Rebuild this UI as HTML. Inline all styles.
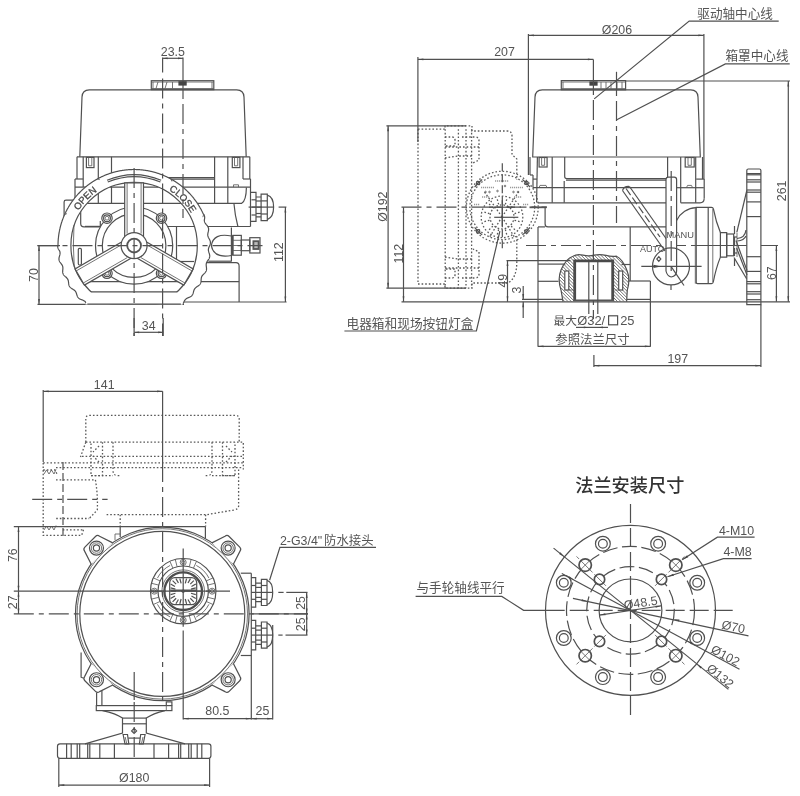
<!DOCTYPE html>
<html><head><meta charset="utf-8"><title>Outline dimensions</title>
<style>
html,body{margin:0;padding:0;background:#fff}
body{width:800px;height:796px;overflow:hidden}
svg{display:block;will-change:transform;filter:blur(0.45px)}
.l,.c,.d,.k,.h,.w{fill:none;stroke:#505050;stroke-width:1.2}
.w{fill:#fff}
.c{stroke-dasharray:20 5 5 5}
.c2{fill:none;stroke:#505050;stroke-width:1.2;stroke-dasharray:8 3}
.c4{fill:none;stroke:#505050;stroke-width:1.2;stroke-dasharray:15 4.5}
.c5{fill:none;stroke:#505050;stroke-width:1.2;stroke-dasharray:19 5}
.d2{fill:none;stroke:#5e5e5e;stroke-width:1.3;stroke-dasharray:1.6 2}
.ft{fill:none;stroke:#9a9a9a;stroke-width:1.6;stroke-dasharray:1.2 0.8}
.k2{fill:none;stroke:#4c4c4c;stroke-width:2.3}
.kk{fill:none;stroke:#4a4a4a;stroke-width:2.8}
.kw{fill:#fff;stroke:#4f4f4f;stroke-width:1.7}
.c6{fill:none;stroke:#6a6a6a;stroke-width:0.9;stroke-dasharray:7 2.5}
.d{stroke-dasharray:1.6 2;stroke:#585858;stroke-width:1.3}
.k{stroke-width:1.8;stroke:#555}
.h{stroke-width:0.85;stroke:#5c5c5c}
.ar{fill:#484848;stroke:none}
.bk{fill:#444;stroke:none}
.tx{font-family:"Liberation Sans",sans-serif;fill:#545454}
.tb{font-family:"Liberation Sans",sans-serif;fill:#484848;stroke:#484848;stroke-width:0.3}
.cj{font-family:"Liberation Sans","Noto Sans CJK SC",sans-serif;fill:#555;stroke:none}
.cjt{font-family:"Liberation Sans","Noto Sans CJK SC",sans-serif;fill:#333;stroke:none}
</style></head><body>
<svg width="800" height="796" viewBox="0 0 800 796">
<text class="tx" x="172.9" y="55.8" font-size="12.4" text-anchor="middle">23.5</text>
<path class="l" d="M162.6 58.3L183 58.3"/>
<path class="ar" d="M162.6 58.3L167.6 57.4L167.6 59.2Z"/>
<path class="ar" d="M183 58.3L178 59.2L178 57.4Z"/>
<path class="l" d="M162.6 57.5L162.6 72.5"/>
<path class="l" d="M183 57.5L183 99"/>
<path class="l" d="M79.8 156.8L82 97Q82.3 89.8 89.3 89.8L236.7 89.8Q243.7 89.8 244 97L246.2 156.8"/>
<rect class="l" x="151.3" y="80.7" width="62.5" height="9"/>
<path class="h" d="M151.3 82L213.8 82"/>
<path class="h" d="M151.3 88.5L213.8 88.5"/>
<path class="h" d="M153 82L153 88.5"/>
<path class="h" d="M158 82L156 88.5"/>
<path class="h" d="M167 82L165 88.5"/>
<path class="h" d="M172.5 82L172.5 88.5"/>
<path class="h" d="M212 82L212 88.5"/>
<rect class="bk" x="178.4" y="81.2" width="8.3" height="4.4"/>
<path class="l" d="M77 156.8L249.8 156.8"/>
<path class="l" d="M77 156.8L77 179"/>
<path class="l" d="M249.8 156.8L249.8 179"/>
<path class="l" d="M83.2 156.8L83.2 187.1"/>
<path class="l" d="M243 156.8L243 179"/>
<rect class="l" x="86.4" y="157.4" width="7.6" height="10.2"/>
<path class="h" d="M88.6 157.4L88.6 165.8"/>
<path class="h" d="M91.8 157.4L91.8 165.8"/>
<path class="h" d="M88.6 165.8L91.8 165.8"/>
<rect class="l" x="232.3" y="157.4" width="7.6" height="10.2"/>
<path class="h" d="M234.5 157.4L234.5 165.8"/>
<path class="h" d="M237.7 157.4L237.7 165.8"/>
<path class="h" d="M234.5 165.8L237.7 165.8"/>
<path class="l" d="M98.3 156.8L98.3 203.3"/>
<path class="l" d="M111.5 156.8L111.5 203.3"/>
<path class="l" d="M214.6 156.8L214.6 203.3"/>
<path class="l" d="M227.8 156.8L227.8 203.3"/>
<path class="l" d="M75 179L83.2 179"/>
<path class="l" d="M243 179L250.5 179"/>
<path class="l" d="M75 179L75 200.2"/>
<path class="l" d="M250.5 179L250.5 226.5"/>
<path class="l" d="M75 187.1L250.5 187.1"/>
<path class="l" d="M111.5 177.7L214.6 177.7"/>
<path class="l" d="M111.5 179.2L214.6 179.2"/>
<path class="h" d="M233.5 187.1L233.5 184.8"/>
<path class="h" d="M233.5 184.8L238.5 184.8"/>
<path class="h" d="M238.5 184.8L238.5 187.1"/>
<path class="l" d="M87 203.3L241.7 203.3Q246.2 200.5 246.4 187.4"/>
<path class="l" d="M233.9 203.3Q235 216 237.9 226.5"/>
<path class="l" d="M166 226.5L250.5 226.5"/>
<path class="l" d="M75 200.2L66 200.2Q64.1 200.2 64.1 202L64.1 215.2L68 213"/>
<path class="l" d="M80.7 203L80.7 223.5Q80.7 226.8 84 226.8L100.3 226.8L100.3 221"/>
<path class="l" d="M85 226.4L101.3 226.4"/>
<path class="l" d="M176.5 226.5L176.5 261.5"/>
<path class="l" d="M176.5 261.5L194 261.5"/>
<path class="l" d="M208.4 261.2L231.4 261.2"/>
<path class="l" d="M205 262.7L236 262.7Q239.1 262.7 239.1 266L239.1 302"/>
<path class="l" d="M85 281.7L239.1 281.7"/>
<path class="l" d="M37.5 304.4L184 304.4"/>
<path class="l" d="M184 302L286.6 302"/>
<path class="l" d="M250.9 192.4L256 192.4L256 221.3L250.9 221.3"/>
<path class="l" d="M251.5 199.8L256 199.8"/>
<path class="l" d="M251.5 207.1L256 207.1"/>
<path class="l" d="M251.5 215L256 215"/>
<path class="l" d="M256 197L261.1 197M256 216.8L261.1 216.8"/>
<path class="l" d="M256 201L261.1 201"/>
<path class="l" d="M256 207.1L261.1 207.1"/>
<path class="l" d="M256 213.5L261.1 213.5"/>
<path class="l" d="M261.1 194.1L267.3 194.1L267.3 220.7L261.1 220.7Z"/>
<path class="l" d="M261.1 200.9L267.3 200.9"/>
<path class="l" d="M261.1 207.1L267.3 207.1"/>
<path class="l" d="M261.1 214L267.3 214"/>
<path class="l" d="M267.3 195.2Q273.6 197 273.6 207.1Q273.6 217.5 267.3 219.6"/>
<path class="l" d="M267.3 207.1L273.6 207.1"/>
<path class="l" d="M248.6 207.1L262 207.1"/>
<path class="l" d="M278.6 207.1L286.4 207.1"/>
<path class="l" d="M231.4 236Q213.5 232.5 211.3 245.6Q213.5 258.5 231.4 255.5"/>
<path class="l" d="M231.4 227.5L231.4 261.4"/>
<path class="k" d="M232.6 235.4L232.6 255.2"/>
<rect class="l" x="232.8" y="235.4" width="8.5" height="19.8"/>
<path class="h" d="M232.8 240.3L241.3 240.3"/>
<path class="h" d="M232.8 245.5L241.3 245.5"/>
<path class="h" d="M232.8 250.5L241.3 250.5"/>
<rect class="l" x="241.3" y="240" width="8.5" height="10.7"/>
<rect class="l" x="249.8" y="237.7" width="10.2" height="15.3"/>
<rect class="k" x="253.4" y="241.2" width="5.2" height="7.8"/>
<path class="h" d="M255 241.2L255 249"/>
<path class="h" d="M257 241.2L257 249"/>
<circle class="w" cx="134.1" cy="245.6" r="38.6"/>
<circle class="l" cx="134.1" cy="245.6" r="31.8"/>
<circle class="w" cx="107" cy="218.2" r="5.2"/>
<circle class="l" cx="107" cy="218.2" r="3.4"/>
<circle class="h" cx="107" cy="218.2" r="1.9"/>
<circle class="w" cx="161.5" cy="218.2" r="5.2"/>
<circle class="l" cx="161.5" cy="218.2" r="3.4"/>
<circle class="h" cx="161.5" cy="218.2" r="1.9"/>
<circle class="w" cx="107" cy="273.3" r="5.2"/>
<circle class="l" cx="107" cy="273.3" r="3.4"/>
<circle class="h" cx="107" cy="273.3" r="1.9"/>
<circle class="w" cx="161.5" cy="273.3" r="5.2"/>
<circle class="l" cx="161.5" cy="273.3" r="3.4"/>
<circle class="h" cx="161.5" cy="273.3" r="1.9"/>
<defs><clipPath id="cw"><rect x="40" y="150" width="220" height="154.4"/></clipPath><clipPath id="cw2"><rect x="40" y="150" width="220" height="141.9"/></clipPath></defs>
<path class="w" fill-rule="evenodd" clip-path="url(#cw)" d="M58 245.6L58 245.27L58 244.94L58.01 244.6L58.01 244.27L58.02 243.94L58.03 243.61L58.04 243.28L58.05 242.94L58.06 242.61L58.07 242.28L58.09 241.95L58.1 241.62L58.12 241.29L58.14 240.95L58.16 240.62L58.19 240.29L58.21 239.96L58.23 239.63L58.26 239.3L58.29 238.97L58.32 238.64L58.35 238.31L58.38 237.98L58.42 237.65L58.45 237.32L58.49 236.99L58.53 236.66L58.57 236.33L58.61 236L58.65 235.67L58.7 235.34L58.74 235.01L58.79 234.68L58.84 234.35L58.89 234.02L58.94 233.7L58.99 233.37L59.04 233.04L59.1 232.71L59.16 232.39L59.21 232.06L59.27 231.73L59.34 231.41L59.4 231.08L59.46 230.75L59.53 230.43L59.59 230.1L59.66 229.78L59.73 229.45L59.8 229.13L59.88 228.8L59.95 228.48L60.03 228.16L60.1 227.83L60.18 227.51L60.26 227.19L60.34 226.87L60.42 226.55L60.51 226.22L60.59 225.9L60.68 225.58L60.77 225.26L60.86 224.94L60.95 224.62L61.04 224.31L61.13 223.99L61.23 223.67L61.33 223.35L61.42 223.03L61.52 222.72L61.62 222.4L61.72 222.08L61.83 221.77L61.93 221.45L62.04 221.14L62.15 220.82L62.25 220.51L62.36 220.2L62.48 219.88L62.59 219.57L62.7 219.26L62.82 218.95L62.94 218.64L63.05 218.33L63.17 218.02L63.3 217.71L63.42 217.4L63.54 217.09L63.67 216.78L63.79 216.48L63.92 216.17L64.05 215.87L64.18 215.56L64.31 215.26L64.44 214.95L64.58 214.65L64.71 214.34L64.85 214.04L64.99 213.74L65.13 213.44L65.27 213.14L65.41 212.84L65.56 212.54L65.7 212.24L65.85 211.94L66 211.64L66.14 211.35L66.29 211.05L66.45 210.76L66.6 210.46L66.75 210.17L66.91 209.87L67.06 209.58L67.22 209.29L67.38 209L67.54 208.71L67.7 208.42L67.87 208.13L68.03 207.84L68.2 207.55L68.36 207.26L68.53 206.98L68.7 206.69L68.87 206.41L69.04 206.12L69.21 205.84L69.39 205.56L69.56 205.27L69.74 204.99L69.92 204.71L70.1 204.43L70.28 204.15L70.46 203.87L70.64 203.6L70.83 203.32L71.01 203.05L71.2 202.77L71.38 202.5L71.57 202.22L71.76 201.95L71.95 201.68L72.15 201.41L72.34 201.14L72.53 200.87L72.73 200.6L72.93 200.33L73.12 200.07L73.32 199.8L73.52 199.54L73.73 199.27L73.93 199.01L74.13 198.75L74.34 198.49L74.54 198.23L74.75 197.97L74.96 197.71L75.17 197.45L75.38 197.19L75.59 196.94L75.8 196.68L76.02 196.43L76.23 196.18L76.45 195.92L76.67 195.67L76.88 195.42L77.1 195.17L77.33 194.93L77.55 194.68L77.77 194.43L77.99 194.19L78.22 193.94L78.44 193.7L78.67 193.46L78.9 193.22L79.13 192.98L79.36 192.74L79.59 192.5L79.82 192.26L80.05 192.02L80.29 191.79L80.52 191.55L80.76 191.32L81 191.09L81.24 190.86L81.48 190.63L81.72 190.4L81.96 190.17L82.2 189.94L82.44 189.72L82.69 189.49L82.93 189.27L83.18 189.05L83.43 188.83L83.67 188.6L83.92 188.38L84.17 188.17L84.42 187.95L84.68 187.73L84.93 187.52L85.18 187.3L85.44 187.09L85.69 186.88L85.95 186.67L86.21 186.46L86.47 186.25L86.73 186.04L86.99 185.84L87.25 185.63L87.51 185.43L87.77 185.23L88.04 185.02L88.3 184.82L88.57 184.62L88.83 184.43L89.1 184.23L89.37 184.03L89.64 183.84L89.91 183.65L90.18 183.45L90.45 183.26L90.72 183.07L91 182.88L91.27 182.7L91.55 182.51L91.82 182.33L92.1 182.14L92.37 181.96L92.65 181.78L92.93 181.6L93.21 181.42L93.49 181.24L93.77 181.06L94.06 180.89L94.34 180.71L94.62 180.54L94.91 180.37L95.19 180.2L95.48 180.03L95.76 179.86L96.05 179.7L96.34 179.53L96.63 179.37L96.92 179.2L97.21 179.04L97.5 178.88L97.79 178.72L98.08 178.56L98.37 178.41L98.67 178.25L98.96 178.1L99.26 177.95L99.55 177.79L99.85 177.64L100.14 177.5L100.44 177.35L100.74 177.2L101.04 177.06L101.34 176.91L101.64 176.77L101.94 176.63L102.24 176.49L102.54 176.35L102.84 176.21L103.15 176.08L103.45 175.94L103.76 175.81L104.06 175.68L104.37 175.55L104.67 175.42L104.98 175.29L105.28 175.17L105.59 175.04L105.9 174.92L106.21 174.8L106.52 174.67L106.83 174.55L107.14 174.44L107.45 174.32L107.76 174.2L108.07 174.09L108.38 173.98L108.7 173.86L109.01 173.75L109.32 173.65L109.64 173.54L109.95 173.43L110.27 173.33L110.58 173.22L110.9 173.12L111.22 173.02L111.53 172.92L111.85 172.83L112.17 172.73L112.49 172.63L112.81 172.54L113.12 172.45L113.44 172.36L113.76 172.27L114.08 172.18L114.4 172.09L114.72 172.01L115.05 171.92L115.37 171.84L115.69 171.76L116.01 171.68L116.33 171.6L116.66 171.53L116.98 171.45L117.3 171.38L117.63 171.3L117.95 171.23L118.28 171.16L118.6 171.09L118.93 171.03L119.25 170.96L119.58 170.9L119.91 170.84L120.23 170.77L120.56 170.71L120.89 170.66L121.21 170.6L121.54 170.54L121.87 170.49L122.2 170.44L122.52 170.39L122.85 170.34L123.18 170.29L123.51 170.24L123.84 170.2L124.17 170.15L124.5 170.11L124.83 170.07L125.16 170.03L125.49 169.99L125.82 169.95L126.15 169.92L126.48 169.88L126.81 169.85L127.14 169.82L127.47 169.79L127.8 169.76L128.13 169.73L128.46 169.71L128.79 169.69L129.12 169.66L129.45 169.64L129.79 169.62L130.12 169.6L130.45 169.59L130.78 169.57L131.11 169.56L131.44 169.55L131.78 169.54L132.11 169.53L132.44 169.52L132.77 169.51L133.1 169.51L133.44 169.5L133.77 169.5L134.1 169.5L134.43 169.5L134.76 169.5L135.1 169.51L135.43 169.51L135.76 169.52L136.09 169.53L136.42 169.54L136.76 169.55L137.09 169.56L137.42 169.57L137.75 169.59L138.08 169.6L138.41 169.62L138.75 169.64L139.08 169.66L139.41 169.69L139.74 169.71L140.07 169.73L140.4 169.76L140.73 169.79L141.06 169.82L141.39 169.85L141.72 169.88L142.05 169.92L142.38 169.95L142.71 169.99L143.04 170.03L143.37 170.07L143.7 170.11L144.03 170.15L144.36 170.2L144.69 170.24L145.02 170.29L145.35 170.34L145.68 170.39L146 170.44L146.33 170.49L146.66 170.54L146.99 170.6L147.31 170.66L147.64 170.71L147.97 170.77L148.29 170.84L148.62 170.9L148.95 170.96L149.27 171.03L149.6 171.09L149.92 171.16L150.25 171.23L150.57 171.3L150.9 171.38L151.22 171.45L151.54 171.53L151.87 171.6L152.19 171.68L152.51 171.76L152.83 171.84L153.15 171.92L153.48 172.01L153.8 172.09L154.12 172.18L154.44 172.27L154.76 172.36L155.08 172.45L155.39 172.54L155.71 172.63L156.03 172.73L156.35 172.83L156.67 172.92L156.98 173.02L157.3 173.12L157.62 173.22L157.93 173.33L158.25 173.43L158.56 173.54L158.88 173.65L159.19 173.75L159.5 173.86L159.82 173.98L160.13 174.09L160.44 174.2L160.75 174.32L161.06 174.44L161.37 174.55L161.68 174.67L161.99 174.8L162.3 174.92L162.61 175.04L162.92 175.17L163.22 175.29L163.53 175.42L163.83 175.55L164.14 175.68L164.44 175.81L164.75 175.94L165.05 176.08L165.36 176.21L165.66 176.35L165.96 176.49L166.26 176.63L166.56 176.77L166.86 176.91L167.16 177.06L167.46 177.2L167.76 177.35L168.06 177.5L168.35 177.64L168.65 177.79L168.94 177.95L169.24 178.1L169.53 178.25L169.83 178.41L170.12 178.56L170.41 178.72L170.7 178.88L170.99 179.04L171.28 179.2L171.57 179.37L171.86 179.53L172.15 179.7L172.44 179.86L172.72 180.03L173.01 180.2L173.29 180.37L173.58 180.54L173.86 180.71L174.14 180.89L174.43 181.06L174.71 181.24L174.99 181.42L175.27 181.6L175.55 181.78L175.83 181.96L176.1 182.14L176.38 182.33L176.65 182.51L176.93 182.7L177.2 182.88L177.48 183.07L177.75 183.26L178.02 183.45L178.29 183.65L178.56 183.84L178.83 184.03L179.1 184.23L179.37 184.43L179.63 184.62L179.9 184.82L180.16 185.02L180.43 185.23L180.69 185.43L180.95 185.63L181.21 185.84L181.47 186.04L181.73 186.25L181.99 186.46L182.25 186.67L182.51 186.88L182.76 187.09L183.02 187.3L183.27 187.52L183.52 187.73L183.78 187.95L184.03 188.17L184.28 188.38L184.53 188.6L184.77 188.83L185.02 189.05L185.27 189.27L185.51 189.49L185.76 189.72L186 189.94L186.24 190.17L186.48 190.4L186.72 190.63L186.96 190.86L187.2 191.09L187.44 191.32L187.68 191.55L187.91 191.79L188.15 192.02L188.38 192.26L188.61 192.5L188.84 192.74L189.07 192.98L189.3 193.22L189.53 193.46L189.76 193.7L189.98 193.94L190.21 194.19L190.43 194.43L190.65 194.68L190.87 194.93L191.1 195.17L191.32 195.42L191.53 195.67L191.75 195.92L191.97 196.18L192.18 196.43L192.4 196.68L192.61 196.94L192.82 197.19L193.03 197.45L193.24 197.71L193.45 197.97L193.66 198.23L193.86 198.49L194.07 198.75L194.27 199.01L194.47 199.27L194.68 199.54L194.88 199.8L195.08 200.07L195.27 200.33L195.47 200.6L195.67 200.87L195.86 201.14L196.05 201.41L196.25 201.68L196.44 201.95L196.63 202.22L196.82 202.5L197 202.77L197.19 203.05L197.37 203.32L197.56 203.6L197.74 203.87L197.92 204.15L198.1 204.43L198.28 204.71L198.46 204.99L198.64 205.27L198.81 205.56L198.99 205.84L199.16 206.12L199.33 206.41L199.5 206.69L199.67 206.98L199.84 207.26L200 207.55L200.17 207.84L200.33 208.13L200.5 208.42L200.66 208.71L200.82 209L200.98 209.29L201.14 209.58L201.29 209.87L201.45 210.17L201.6 210.46L201.75 210.76L201.91 211.05L202.06 211.35L202.2 211.64L202.35 211.94L202.5 212.24L202.64 212.54L202.79 212.84L202.93 213.14L203.07 213.44L203.21 213.74L203.35 214.04L203.49 214.34L203.89 214.53L204.03 214.83L204.16 215.14L204.28 215.45L204.39 215.76L204.48 216.09L204.56 216.41L204.62 216.75L204.66 217.09L204.67 217.44L204.67 217.8L204.65 218.17L204.6 218.54L204.55 218.91L204.47 219.29L204.39 219.67L204.31 220.05L204.33 220.39L204.36 220.72L204.41 221.05L204.47 221.37L204.56 221.68L204.66 221.99L204.78 222.29L204.92 222.59L205.07 222.88L205.25 223.17L205.43 223.45L205.63 223.73L205.85 224.01L206.07 224.28L206.29 224.56L206.52 224.83L206.75 225.11L206.98 225.39L207.2 225.67L207.41 225.96L207.62 226.25L207.8 226.54L207.97 226.84L208.13 227.14L208.26 227.45L208.37 227.77L208.47 228.09L208.54 228.42L208.58 228.75L208.61 229.08L208.61 229.42L208.6 229.76L208.57 230.11L208.52 230.46L208.47 230.81L208.4 231.16L208.32 231.51L208.24 231.86L208.15 232.21L208.07 232.56L207.99 232.9L207.92 233.25L207.86 233.59L207.82 233.92L207.78 234.26L207.76 234.59L207.76 234.92L207.78 235.24L207.82 235.57L207.88 235.89L207.96 236.2L208.05 236.52L208.16 236.83L208.29 237.15L208.44 237.46L208.59 237.77L208.75 238.08L208.92 238.4L209.1 238.71L209.27 239.02L209.44 239.34L209.61 239.66L209.77 239.98L209.91 240.3L210.04 240.62L210.16 240.95L210.26 241.28L210.34 241.6L210.39 241.94L210.43 242.27L210.44 242.6L210.43 242.93L210.39 243.27L210.34 243.6L210.27 243.94L210.17 244.27L210.07 244.61L209.95 244.94L209.81 245.27L209.67 245.6L209.53 245.93L209.38 246.26L209.23 246.58L209.09 246.91L208.96 247.23L208.83 247.56L208.72 247.88L208.62 248.2L208.54 248.52L208.47 248.85L208.42 249.17L208.4 249.49L208.39 249.82L208.4 250.14L208.43 250.47L208.48 250.8L208.55 251.13L208.63 251.47L208.72 251.8L208.82 252.14L208.93 252.48L209.04 252.82L209.15 253.16L209.26 253.5L209.36 253.84L209.46 254.19L209.55 254.53L209.62 254.87L209.68 255.21L209.71 255.55L209.73 255.89L209.73 256.23L209.71 256.56L209.66 256.89L209.59 257.22L209.5 257.54L209.39 257.86L209.26 258.18L209.11 258.49L208.94 258.8L208.76 259.1L208.57 259.4L208.38 259.7L208.17 260L207.97 260.29L207.76 260.59L207.56 260.88L207.36 261.17L207.18 261.47L207 261.76L206.84 262.06L206.7 262.36L206.57 262.66L206.46 262.97L206.37 263.28L206.3 263.6L206.24 263.92L206.21 264.25L206.19 264.58L206.19 264.92L206.2 265.26L206.23 265.6L206.26 265.95L206.3 266.3L206.35 266.66L206.4 267.01L206.44 267.37L206.48 267.73L206.51 268.08L206.53 268.44L206.54 268.79L206.54 269.14L206.52 269.48L206.47 269.82L206.41 270.15L206.33 270.47L206.23 270.79L206.1 271.1L205.96 271.4L205.79 271.69L205.61 271.98L205.41 272.26L205.19 272.53L204.96 272.8L204.72 273.06L204.47 273.32L204.21 273.57L203.96 273.82L203.7 274.07L203.44 274.32L203.2 274.57L202.96 274.83L202.73 275.08L202.51 275.35L202.31 275.61L202.12 275.89L201.95 276.17L201.8 276.45L201.67 276.75L201.55 277.05L201.46 277.37L201.37 277.69L201.31 278.02L201.25 278.35L201.21 278.69L201.18 279.04L201.15 279.4L201.13 279.75L201.11 280.11L201.08 280.47L201.06 280.83L201.02 281.18L200.98 281.54L200.93 281.88L200.86 282.23L200.78 282.56L200.68 282.88L200.56 283.2L200.42 283.51L200.26 283.8L200.09 284.08L199.89 284.35L199.68 284.61L199.45 284.86L199.2 285.1L198.94 285.33L198.66 285.55L198.38 285.77L198.09 285.97L197.79 286.17L197.49 286.37L197.19 286.57L196.89 286.77L196.6 286.97L196.32 287.17L196.04 287.38L195.78 287.59L195.53 287.82L195.29 288.05L195.07 288.29L194.86 288.54L194.67 288.81L194.5 289.08L194.34 289.37L194.2 289.66L194.07 289.97L193.95 290.29L193.84 290.62L193.74 290.95L193.65 291.29L193.56 291.64L193.47 291.99L193.38 292.33L193.29 292.68L193.19 293.03L193.09 293.37L192.97 293.7L192.84 294.02L192.7 294.34L192.54 294.64L192.37 294.93L192.18 295.21L191.98 295.47L191.75 295.72L191.51 295.95L191.26 296.17L190.99 296.37L190.7 296.57L190.4 296.74L190.1 296.91L189.78 297.07L189.45 297.22L189.12 297.36L188.79 297.5L188.46 297.64L188.13 297.78L187.81 297.92L187.49 298.06L187.18 298.21L186.87 298.37L186.58 298.54L186.3 298.72L186.04 298.92L185.79 299.12L185.55 299.34L185.32 299.58L185.11 299.83L184.91 300.09L184.73 300.37L184.55 300.65L184.38 300.95L184.22 301.26L184.06 301.58L183.91 301.9L183.76 302.22L183.6 302.55L183.45 302.87L183.29 303.19L183.12 303.51L182.95 303.82L182.77 304.11L182.57 304.4L182.36 304.67L182.14 304.93L181.91 305.17L181.66 305.39L181.4 305.6L181.12 305.78L180.83 305.95L180.53 306.11L180.21 306.24L179.89 306.37L179.56 306.47L179.22 306.57L178.87 306.66L178.52 306.74L178.17 306.82L177.82 306.89L177.47 306.96L177.12 307.04L176.78 307.12L176.44 307.21L176.12 307.31L175.8 307.42L175.49 307.54L175.19 307.68L174.9 307.83L174.62 308L174.35 308.18L174.1 308.38L173.85 308.6L173.61 308.83L173.38 309.08L173.16 309.34L172.94 309.61L172.73 309.89L172.52 310.18L172.31 310.47L172.1 310.76L171.89 311.05L171.67 311.34L171.45 311.62L171.22 311.89L170.99 312.15L170.74 312.39L170.49 312.62L170.23 312.84L169.95 313.03L169.67 313.21L169.38 313.37L169.07 313.5L168.76 313.62L168.43 313.72L168.1 313.8L167.76 313.86L167.41 313.91L167.06 313.94L166.71 313.96L166.35 313.98L165.99 313.99L165.63 313.99L165.27 314L164.92 314.01L164.56 314.02L164.22 314.05L163.88 314.08L163.54 314.12L163.21 314.18L162.89 314.26L162.58 314.35L162.27 314.46L161.97 314.59L161.68 314.74L161.4 314.9L161.12 315.08L160.85 315.28L160.58 315.49L160.31 315.71L160.05 315.94L159.79 316.18L159.82 317.22L159.5 317.34L159.19 317.45L158.88 317.55L158.56 317.66L158.25 317.77L157.93 317.87L157.62 317.98L157.3 318.08L156.98 318.18L156.67 318.28L156.35 318.37L156.03 318.47L155.71 318.57L155.39 318.66L155.08 318.75L154.76 318.84L154.44 318.93L154.12 319.02L153.8 319.11L153.48 319.19L153.15 319.28L152.83 319.36L152.51 319.44L152.19 319.52L151.87 319.6L151.54 319.67L151.22 319.75L150.9 319.82L150.57 319.9L150.25 319.97L149.92 320.04L149.6 320.11L149.27 320.17L148.95 320.24L148.62 320.3L148.29 320.36L147.97 320.43L147.64 320.49L147.31 320.54L146.99 320.6L146.66 320.66L146.33 320.71L146 320.76L145.68 320.81L145.35 320.86L145.02 320.91L144.69 320.96L144.36 321L144.03 321.05L143.7 321.09L143.37 321.13L143.04 321.17L142.71 321.21L142.38 321.25L142.05 321.28L141.72 321.32L141.39 321.35L141.06 321.38L140.73 321.41L140.4 321.44L140.07 321.47L139.74 321.49L139.41 321.51L139.08 321.54L138.75 321.56L138.41 321.58L138.08 321.6L137.75 321.61L137.42 321.63L137.09 321.64L136.76 321.65L136.42 321.66L136.09 321.67L135.76 321.68L135.43 321.69L135.1 321.69L134.76 321.7L134.43 321.7L134.1 321.7L133.77 321.7L133.44 321.7L133.1 321.69L132.77 321.69L132.44 321.68L132.11 321.67L131.78 321.66L131.44 321.65L131.11 321.64L130.78 321.63L130.45 321.61L130.12 321.6L129.79 321.58L129.45 321.56L129.12 321.54L128.79 321.51L128.46 321.49L128.13 321.47L127.8 321.44L127.47 321.41L127.14 321.38L126.81 321.35L126.48 321.32L126.15 321.28L125.82 321.25L125.49 321.21L125.16 321.17L124.83 321.13L124.5 321.09L124.17 321.05L123.84 321L123.51 320.96L123.18 320.91L122.85 320.86L122.52 320.81L122.2 320.76L121.87 320.71L121.54 320.66L121.21 320.6L120.89 320.54L120.56 320.49L120.23 320.43L119.91 320.36L119.58 320.3L119.25 320.24L118.93 320.17L118.6 320.11L118.28 320.04L117.95 319.97L117.63 319.9L117.3 319.82L116.98 319.75L116.66 319.67L116.33 319.6L116.01 319.52L115.69 319.44L115.37 319.36L115.05 319.28L114.72 319.19L114.4 319.11L114.08 319.02L113.76 318.93L113.44 318.84L113.12 318.75L112.81 318.66L112.49 318.57L112.17 318.47L111.85 318.37L111.53 318.28L111.22 318.18L110.9 318.08L110.58 317.98L110.27 317.87L109.95 317.77L109.64 317.66L109.32 317.55L109.01 317.45L108.7 317.34L108.38 317.22L108.07 317.11L107.76 317L107.45 316.88L107.14 316.76L106.83 316.65L106.52 316.53L106.21 316.4L105.9 316.28L105.59 316.16L105.28 316.03L104.98 315.91L104.67 315.78L104.37 315.65L104.06 315.52L103.76 315.39L103.45 315.26L103.15 315.12L102.84 314.99L102.54 314.85L102.24 314.71L101.94 314.57L101.64 314.43L101.34 314.29L101.04 314.14L100.74 314L100.44 313.85L100.14 313.7L99.85 313.56L99.55 313.41L99.26 313.25L98.96 313.1L98.67 312.95L98.37 312.79L98.08 312.64L97.79 312.48L97.5 312.32L97.21 312.16L96.92 312L96.63 311.83L96.34 311.67L96.05 311.5L95.76 311.34L95.48 311.17L95.19 311L94.91 310.83L94.62 310.66L94.34 310.49L94.06 310.31L93.77 310.14L93.49 309.96L93.21 309.78L92.93 309.6L92.65 309.42L92.37 309.24L92.1 309.06L91.82 308.87L91.55 308.69L91.27 308.5L91 308.32L90.72 308.13L90.37 308.05L90.06 307.91L89.76 307.76L89.47 307.6L89.19 307.41L88.93 307.2L88.68 306.98L88.44 306.74L88.22 306.48L88.01 306.21L87.81 305.93L87.62 305.63L87.44 305.33L87.26 305.02L87.09 304.7L86.92 304.38L86.76 304.06L86.59 303.75L86.43 303.43L86.25 303.13L86.07 302.83L85.89 302.55L85.69 302.28L85.49 302.02L85.27 301.77L85.04 301.54L84.8 301.32L84.54 301.12L84.28 300.93L84 300.76L83.7 300.6L83.4 300.45L83.08 300.31L82.76 300.17L82.43 300.05L82.1 299.92L81.76 299.8L81.43 299.67L81.09 299.54L80.76 299.41L80.43 299.27L80.11 299.12L79.8 298.96L79.5 298.78L79.22 298.6L78.95 298.4L78.69 298.18L78.45 297.95L78.23 297.7L78.02 297.44L77.83 297.16L77.66 296.87L77.5 296.57L77.35 296.25L77.22 295.93L77.09 295.59L76.98 295.26L76.87 294.91L76.77 294.57L76.66 294.22L76.56 293.88L76.45 293.54L76.34 293.21L76.23 292.89L76.1 292.57L75.96 292.26L75.81 291.97L75.65 291.68L75.47 291.41L75.27 291.15L75.06 290.9L74.84 290.66L74.6 290.44L74.34 290.22L74.07 290.02L73.79 289.82L73.5 289.63L73.21 289.44L72.9 289.25L72.6 289.07L72.29 288.88L71.98 288.69L71.68 288.5L71.38 288.3L71.1 288.1L70.82 287.88L70.56 287.66L70.31 287.42L70.08 287.18L69.86 286.92L69.67 286.65L69.49 286.37L69.33 286.07L69.19 285.77L69.07 285.45L68.97 285.12L68.88 284.79L68.81 284.44L68.75 284.1L68.7 283.74L68.65 283.39L68.61 283.03L68.58 282.67L68.54 282.32L68.5 281.96L68.46 281.61L68.4 281.27L68.34 280.93L68.26 280.61L68.17 280.29L68.07 279.97L67.95 279.67L67.81 279.38L67.65 279.09L67.48 278.82L67.29 278.55L67.08 278.29L66.86 278.03L66.63 277.78L66.38 277.54L66.12 277.3L65.86 277.06L65.59 276.82L65.33 276.58L65.06 276.34L64.8 276.09L64.54 275.84L64.3 275.59L64.06 275.33L63.84 275.06L63.64 274.79L63.45 274.5L63.29 274.21L63.14 273.91L63.02 273.6L62.91 273.28L62.83 272.96L62.77 272.63L62.72 272.29L62.7 271.94L62.69 271.59L62.69 271.24L62.7 270.88L62.72 270.53L62.75 270.17L62.78 269.81L62.82 269.45L62.84 269.1L62.87 268.75L62.88 268.4L62.88 268.05L62.87 267.72L62.85 267.38L62.81 267.06L62.75 266.74L62.67 266.42L62.58 266.11L62.46 265.8L62.33 265.5L62.18 265.21L62.01 264.92L61.83 264.63L61.63 264.34L61.43 264.06L61.22 263.77L61 263.49L60.78 263.2L60.57 262.91L60.35 262.63L60.15 262.33L59.95 262.04L59.77 261.74L59.6 261.44L59.45 261.13L59.31 260.82L59.2 260.5L59.11 260.18L59.04 259.85L58.99 259.52L58.97 259.19L58.97 258.85L58.98 258.51L59.02 258.16L59.07 257.82L59.13 257.47L59.21 257.13L59.3 256.78L59.39 256.43L59.49 256.09L59.59 255.74L59.68 255.4L59.77 255.06L59.85 254.72L59.92 254.38L59.98 254.04L60.02 253.71L60.05 253.38L60.05 253.06L60.04 252.73L60.01 252.41L59.96 252.09L59.89 251.77L59.8 251.45L59.69 251.13L59.57 250.81L59.34 250.5L59.11 250.19L58.89 249.87L58.68 249.55L58.49 249.23L58.32 248.91L58.18 248.58L58.05 248.26L57.94 247.93L57.86 247.6L57.8 247.26L57.75 246.93L57.72 246.6L57.71 246.27L57.7 245.93L57.7 245.6ZM197.3 245.6A63.2 63.2 0 1 0 70.9 245.6A63.2 63.2 0 1 0 197.3 245.6Z"/>
<path d="M90.97 291.8L177.23 291.8L182.88 304.4L85.32 304.4Z" fill="#fff" stroke="none"/>
<path class="l" d="M87.32 304.2L180.88 304.2"/>
<path class="l" d="M90.97 291.8L177.23 291.8"/>
<path class="l" d="M107.04 180.28A70.7 70.7 0 0 1 161.16 180.28"/>
<path class="l" d="M107.77 182.04A68.8 68.8 0 0 1 160.43 182.04"/>
<rect class="l" x="78.3" y="248.3" width="3.1" height="16.7" rx="1.2"/>
<path class="h" d="M74 225Q72.6 246 74.3 267"/>
<path class="h" d="M64.58 214.65L66.95 213.57"/>
<path class="h" d="M97.21 179.04L99.75 179.61"/>
<path class="h" d="M170.99 179.04L171.86 181.49"/>
<path class="h" d="M203.62 214.65L202.84 217.13"/>
<g clip-path="url(#cw2)">
<path class="w" d="M124.7 237.6L124.7 182.8L143.5 182.8L143.5 237.6"/>
<path class="h" d="M127.1 233.6L127.1 182.8"/>
<path class="h" d="M141.1 233.6L141.1 182.8"/>
<path class="w" d="M131.87 257.74L84.41 285.14L75.01 268.86L122.47 241.46"/>
<path class="h" d="M127.21 257.66L83.21 283.06"/>
<path class="h" d="M120.21 245.54L76.21 270.94"/>
<path class="w" d="M145.73 241.46L193.19 268.86L183.79 285.14L136.33 257.74"/>
<path class="h" d="M147.99 245.54L191.99 270.94"/>
<path class="h" d="M140.99 257.66L184.99 283.06"/>
</g>
<circle class="w" cx="134.1" cy="245.6" r="13"/>
<circle class="k" cx="134.1" cy="245.6" r="6.9"/>
<text class="tb" x="80.62" y="207.78" font-size="9.6" text-anchor="middle" transform="rotate(-54.73 80.62 207.78)">O</text>
<text class="tb" x="84.92" y="202.34" font-size="9.6" text-anchor="middle" transform="rotate(-48.67 84.92 202.34)">P</text>
<text class="tb" x="89.38" y="197.75" font-size="9.6" text-anchor="middle" transform="rotate(-43.06 89.38 197.75)">E</text>
<text class="tb" x="94.47" y="193.45" font-size="9.6" text-anchor="middle" transform="rotate(-37.23 94.47 193.45)">N</text>
<text class="tb" x="171.57" y="191.88" font-size="9.6" text-anchor="middle" transform="rotate(34.9 171.57 191.88)">C</text>
<text class="tb" x="176.43" y="195.62" font-size="9.6" text-anchor="middle" transform="rotate(40.26 176.43 195.62)">L</text>
<text class="tb" x="181.11" y="199.99" font-size="9.6" text-anchor="middle" transform="rotate(45.86 181.11 199.99)">O</text>
<text class="tb" x="185.67" y="205.21" font-size="9.6" text-anchor="middle" transform="rotate(51.93 185.67 205.21)">S</text>
<text class="tb" x="189.36" y="210.44" font-size="9.6" text-anchor="middle" transform="rotate(57.53 189.36 210.44)">E</text>
<path class="c" d="M162.6 78.5L162.6 336"/>
<path class="c" d="M183 104L183 218"/>
<path class="c" d="M134.1 168L134.1 336"/>
<path class="c" d="M37.5 245.6L262.5 245.6"/>
<path class="l" d="M39 245.6L39 304.4"/>
<path class="ar" d="M39 245.6L39.9 251.1L38.1 251.1Z"/>
<path class="ar" d="M39 304.4L38.1 298.9L39.9 298.9Z"/>
<text class="tx" x="38" y="275" font-size="12.4" text-anchor="middle" transform="rotate(-90 38 275)">70</text>
<path class="l" d="M37.5 245.6L60 245.6"/>
<path class="l" d="M134.2 332.3L163.2 332.3"/>
<path class="ar" d="M134.2 332.3L139.2 331.4L139.2 333.2Z"/>
<path class="ar" d="M163.2 332.3L158.2 333.2L158.2 331.4Z"/>
<text class="tx" x="148.7" y="329.6" font-size="12.4" text-anchor="middle">34</text>
<path class="l" d="M134.1 318L134.1 336"/>
<path class="l" d="M163.2 318L163.2 336"/>
<path class="l" d="M285.4 207.1L285.4 302"/>
<path class="ar" d="M285.4 207.1L286.3 212.6L284.5 212.6Z"/>
<path class="ar" d="M285.4 302L284.5 296.5L286.3 296.5Z"/>
<text class="tx" x="283.5" y="252.2" font-size="12.4" text-anchor="middle" transform="rotate(-90 283.5 252.2)">112</text>
<path class="d" d="M418 129.2L445 129.2L445 125.8L472 125.8L472 131L507 131Q512 131 512 136L512 154.5L516.8 159L516.8 180"/>
<path class="d" d="M418 129.2L418 284L445 284L445 288.2L472 288.2L472 283L508 283Q516.8 278 516.8 262L516.8 236"/>
<path class="d" d="M445.2 129.2L445.2 288.2"/>
<path class="d" d="M458.4 129.2L458.4 288.2"/>
<path class="d" d="M466 129.2L466 288.2"/>
<path class="d" d="M471.6 129.2L471.6 288.2"/>
<path class="d" d="M445 137L452 137Q455 137 455 140L455 146L445 146"/>
<path class="d" d="M462 137L475 137Q479 137 479 141L479 160L473 163"/>
<path class="d" d="M445 158L458 156L472 156"/>
<path class="d" d="M445 147L479 147"/>
<path class="d" d="M445 278L452 278Q455 278 455 275L455 269L445 269"/>
<path class="d" d="M462 278L475 278Q479 278 479 274L479 252L473 249"/>
<path class="d" d="M445 257L458 259L472 259"/>
<path class="d" d="M445 268L479 268"/>
<circle class="d2" cx="502.3" cy="207.2" r="35.9"/>
<circle class="d2" cx="502.3" cy="207.2" r="32.4"/>
<circle class="d2" cx="502" cy="216.9" r="20.8"/>
<circle class="d" cx="502" cy="216.9" r="12"/>
<circle class="l" cx="526.48" cy="231.38" r="1.7"/>
<path class="l" d="M529.97 227.3A34.2 34.2 0 0 1 522.4 234.87"/>
<circle class="l" cx="478.12" cy="231.38" r="1.7"/>
<path class="l" d="M482.2 234.87A34.2 34.2 0 0 1 474.63 227.3"/>
<circle class="l" cx="478.12" cy="183.02" r="1.7"/>
<path class="l" d="M474.63 187.1A34.2 34.2 0 0 1 482.2 179.53"/>
<circle class="l" cx="526.48" cy="183.02" r="1.7"/>
<path class="l" d="M522.4 179.53A34.2 34.2 0 0 1 529.97 187.1"/>
<path class="d" d="M502 216.9L483.5 190.5M502 216.9L519.5 190.5"/>
<path class="d" d="M502 216.9L489 238M502 216.9L515 238"/>
<path class="d" d="M514.56 220.26L520.84 221.95"/>
<path class="d" d="M511.19 226.09L515.79 230.69"/>
<path class="d" d="M505.36 229.46L507.05 235.74"/>
<path class="d" d="M498.64 229.46L496.95 235.74"/>
<path class="d" d="M492.81 226.09L488.21 230.69"/>
<path class="d" d="M489.44 220.26L483.16 221.95"/>
<path class="d" d="M489.44 213.54L483.16 211.85"/>
<path class="d" d="M492.81 207.71L488.21 203.11"/>
<path class="d" d="M498.64 204.34L496.95 198.06"/>
<path class="d" d="M505.36 204.34L507.05 198.06"/>
<path class="d" d="M511.19 207.71L515.79 203.11"/>
<path class="d" d="M514.56 213.54L520.84 211.85"/>
<path class="ft" d="M495 181L509 181"/>
<path class="ft" d="M481 187.5L494 187.5"/>
<path class="ft" d="M510 187.5L523 187.5"/>
<path class="ft" d="M482 197L490 197"/>
<path class="ft" d="M514 197L522 197"/>
<path class="ft" d="M474 204.5L480 204.5"/>
<path class="ft" d="M523 204.5L529 204.5"/>
<circle class="h" cx="485.5" cy="192" r="0.8"/>
<circle class="h" cx="489.5" cy="192" r="0.8"/>
<circle class="h" cx="513.5" cy="192" r="0.8"/>
<circle class="h" cx="518" cy="192" r="0.8"/>
<circle class="h" cx="497.5" cy="191" r="0.8"/>
<circle class="h" cx="505" cy="186" r="0.8"/>
<path class="c2" d="M502.3 163.2L502.3 251.2"/>
<path class="l" d="M494.2 217.3L518.3 217.3"/>
<path class="l" d="M502.3 200.2L502.3 227.3"/>
<path class="l" d="M489 207.2L515 207.2"/>
<path class="l" d="M417.9 59.4L593.4 59.4"/>
<path class="ar" d="M417.9 59.4L423.4 58.5L423.4 60.3Z"/>
<path class="ar" d="M593.4 59.4L587.9 60.3L587.9 58.5Z"/>
<text class="tx" x="504.5" y="56.2" font-size="12.4" text-anchor="middle">207</text>
<path class="l" d="M417.9 57L417.9 142"/>
<path class="l" d="M386.4 125.8L466 125.8"/>
<path class="l" d="M386.4 288.2L466 288.2"/>
<path class="l" d="M388.1 125.8L388.1 288.2"/>
<path class="ar" d="M388.1 125.8L389 131.3L387.2 131.3Z"/>
<path class="ar" d="M388.1 288.2L387.2 282.7L389 282.7Z"/>
<text class="tx" x="386.6" y="206.7" font-size="12.4" text-anchor="middle" transform="rotate(-90 386.6 206.7)">&#216;192</text>
<path class="l" d="M401.5 301.8L545 301.8"/>
<path class="l" d="M403.5 207.2L403.5 301.8"/>
<path class="ar" d="M403.5 207.2L404.4 212.7L402.6 212.7Z"/>
<path class="ar" d="M403.5 301.8L402.6 296.3L404.4 296.3Z"/>
<text class="tx" x="402.7" y="253.7" font-size="12.4" text-anchor="middle" transform="rotate(-90 402.7 253.7)">112</text>
<path class="c" d="M401.5 207.2L547 207.2"/>
<path class="l" d="M499.9 231.1L476.4 331L344.4 331"/>
<text class="cj" x="346.5" y="328.2" font-size="12.7" text-anchor="start">电器箱和现场按钮灯盒</text>
<path class="l" d="M532.7 157L535 97Q535.3 89.8 542.3 89.8L690.7 89.8Q697.7 89.8 698 97L700.3 157Z"/>
<rect class="l" x="561.3" y="80.6" width="64.3" height="9.2"/>
<path class="h" d="M561.3 82L625.6 82"/>
<path class="h" d="M561.3 88.6L625.6 88.6"/>
<path class="h" d="M563 82L563 88.6"/>
<path class="h" d="M601 82L601 88.6"/>
<path class="h" d="M606 82L606 88.6"/>
<path class="h" d="M611 82L611 88.6"/>
<path class="h" d="M617 82L617 88.6"/>
<path class="h" d="M622 82L622 88.6"/>
<rect class="bk" x="589.4" y="81.4" width="8.2" height="4.3"/>
<path class="l" d="M530 157L530 175"/>
<path class="l" d="M530 175L533 175"/>
<path class="l" d="M533 175L533 187.7"/>
<path class="l" d="M537.4 157L536.6 202.5"/>
<path class="l" d="M533 179.1L537 179.1"/>
<rect class="l" x="539.1" y="157.5" width="8" height="9.5"/>
<path class="h" d="M541.6 157.5L541.6 165.3"/>
<path class="h" d="M544.6 157.5L544.6 165.3"/>
<path class="h" d="M541.6 165.3L544.6 165.3"/>
<path class="l" d="M552.2 157L552.2 202.8"/>
<path class="l" d="M564.7 157L564.7 176.5Q564.7 178.6 567 178.6L667 178.6"/>
<path class="l" d="M566 180.2L667 180.2"/>
<path class="l" d="M564.2 181L564.2 202.8"/>
<path class="l" d="M533 187.7L666 187.7"/>
<path class="h" d="M539 187.7L540 185.4L546 185.4L547 187.7"/>
<path class="l" d="M538 202.8L666 202.8"/>
<path class="l" d="M702.5 157L702.5 179.1"/>
<path class="l" d="M704.2 179.1L704.2 198.5"/>
<path class="l" d="M704.2 198.5Q704 202.8 700 202.8L680.7 202.8"/>
<path class="l" d="M696.2 179.1L704.2 179.1"/>
<path class="l" d="M667.6 157L667.6 177"/>
<path class="l" d="M680.7 157L680.7 202.8"/>
<path class="l" d="M695.7 157L695.7 202.8"/>
<rect class="l" x="685.2" y="157.5" width="9" height="9.5"/>
<path class="h" d="M688 157.5L688 165.3"/>
<path class="h" d="M691.3 157.5L691.3 165.3"/>
<path class="h" d="M688 165.3L691.3 165.3"/>
<path class="l" d="M676.6 187.7L703.8 187.7"/>
<path class="h" d="M686.5 187.7L687.5 185.4L691.5 185.4L692.5 187.7"/>
<path class="k" d="M529.5 207.3L546.6 207.3"/>
<path class="l" d="M545.1 207.3L545.1 224Q545.1 226.9 548 226.9L666 226.9"/>
<path class="l" d="M538 226.9L545.1 226.9"/>
<path class="l" d="M538 226.9L538 346.8"/>
<path class="l" d="M630.2 226.9L630.2 281"/>
<path class="c" d="M526 245.5L694 245.5"/>
<path class="l" d="M694 245.5L778 245.5"/>
<path class="l" d="M622.5 190.5L665 251"/>
<path class="l" d="M629.5 186.5L672 247"/>
<path class="l" d="M622.5 190.5Q624 186 629.5 186.5"/>
<path class="c2" d="M626 188.5L660 237"/>
<path class="w" d="M666 271L666 179.5Q666 177.1 668.4 177.1L674.2 177.1Q676.6 177.1 676.6 179.5L676.6 271"/>
<path class="c" d="M671.2 171L671.2 276"/>
<path class="l" d="M676.6 220.4A23 23 0 0 1 696.2 207.6"/>
<path class="l" d="M696.2 283.6L696.2 207.3L711.5 207.3Q713 207.3 713.4 208.8Q716 222 720.4 232.6L726.7 232.6L726.7 257.1L720.4 257.1Q716 268 713.3 282Q713 283.6 711.5 283.6L697.5 283.6Q696.2 283.6 696.2 282"/>
<path class="h" d="M695.3 207.3L695.3 283.6"/>
<path class="l" d="M708.2 207.3L708.2 283.6"/>
<path class="h" d="M712.8 209L712.8 282"/>
<path class="l" d="M720.4 232.6L720.4 257.1"/>
<rect class="l" x="726.7" y="234" width="7" height="21.8"/>
<path class="l" d="M733.7 237L737 237"/>
<path class="l" d="M733.7 253L737 253"/>
<circle class="l" cx="671" cy="266.4" r="18.5"/>
<path class="l" d="M666 271Q667 276 671.2 277Q676.6 276 676.6 271"/>
<path class="l" d="M641.3 266.4L701.6 266.4"/>
<path class="ar" d="M661 266.4L653.5 268.1L653.5 264.7Z"/>
<path class="l" d="M671 266.4L684 285.5"/>
<path class="l" d="M671 284.9L671 290"/>
<path class="l" d="M658.8 256.7L660.8 259L658.8 261.3L656.8 259Z"/>
<text class="tx" x="680.2" y="237.9" font-size="9.3" text-anchor="middle">MANU</text>
<text class="tx" x="652.3" y="252.4" font-size="9" text-anchor="middle">AUTO</text>
<path class="w" d="M746.8 304.6L746.8 170.5Q746.8 169 748.3 169L759.4 169Q760.9 169 760.9 170.5L760.9 304.6Z"/>
<path class="l" d="M746.8 173.6L760.9 173.6"/>
<path class="l" d="M746.8 174.8L760.9 174.8"/>
<path class="l" d="M746.8 179.8L760.9 179.8"/>
<path class="l" d="M746.8 182L760.9 182"/>
<path class="l" d="M746.8 190L760.9 190"/>
<path class="l" d="M746.8 192.2L760.9 192.2"/>
<path class="l" d="M746.8 201.9L760.9 201.9"/>
<path class="l" d="M746.8 216.6L760.9 216.6"/>
<path class="l" d="M746.8 256.7L760.9 256.7"/>
<path class="l" d="M746.8 271.4L760.9 271.4"/>
<path class="l" d="M746.8 281.6L760.9 281.6"/>
<path class="l" d="M746.8 283.8L760.9 283.8"/>
<path class="l" d="M746.8 291.7L760.9 291.7"/>
<path class="l" d="M746.8 294L760.9 294"/>
<path class="l" d="M746.8 299.7L760.9 299.7"/>
<path class="l" d="M746.8 190.5L736.8 232.4"/>
<path class="l" d="M746 230Q745 238 737 238.5"/>
<path class="l" d="M746 236Q744 240.5 737.5 241"/>
<path class="l" d="M736 240.5L747 270.5"/>
<path class="l" d="M736.6 248L747 275"/>
<path class="l" d="M734 257.5L746.6 278.8"/>
<path class="h" d="M737 233L737 257"/>
<path class="c2" d="M734.5 226L734.5 266"/>
<defs><clipPath id="hc"><path clip-rule="evenodd" d="M563 301.6L561 290Q557.3 279 561 270Q566 258.5 573 256.3Q577 253.8 583 255.2Q589 256.6 594 255.2Q600 254 606 255.4Q611 256.8 616.4 256.2Q622.5 259 626.8 270Q630.7 279 627.3 290L626.6 301.6Z M574 260.5L612.8 260.5L612.8 301.6L574 301.6Z"/></clipPath></defs>
<path class="h" clip-path="url(#hc)" d="M500 250L560 310M503.3 250L563.3 310M506.6 250L566.6 310M509.9 250L569.9 310M513.2 250L573.2 310M516.5 250L576.5 310M519.8 250L579.8 310M523.1 250L583.1 310M526.4 250L586.4 310M529.7 250L589.7 310M533 250L593 310M536.3 250L596.3 310M539.6 250L599.6 310M542.9 250L602.9 310M546.2 250L606.2 310M549.5 250L609.5 310M552.8 250L612.8 310M556.1 250L616.1 310M559.4 250L619.4 310M562.7 250L622.7 310M566 250L626 310M569.3 250L629.3 310M572.6 250L632.6 310M575.9 250L635.9 310M579.2 250L639.2 310M582.5 250L642.5 310M585.8 250L645.8 310M589.1 250L649.1 310M592.4 250L652.4 310M595.7 250L655.7 310M599 250L659 310M602.3 250L662.3 310M605.6 250L665.6 310M608.9 250L668.9 310M612.2 250L672.2 310M615.5 250L675.5 310M618.8 250L678.8 310M622.1 250L682.1 310M625.4 250L685.4 310M628.7 250L688.7 310M632 250L692 310M635.3 250L695.3 310M638.6 250L698.6 310M641.9 250L701.9 310M645.2 250L705.2 310"/>
<path class="l" d="M563 301.6L561 290Q557.3 279 561 270Q566 258.5 573 256.3Q577 253.8 583 255.2Q589 256.6 594 255.2Q600 254 606 255.4Q611 256.8 616.4 256.2Q622.5 259 626.8 270Q630.7 279 627.3 290L626.6 301.6"/>
<path class="kk" d="M574.7 301L574.7 260.8L612.7 260.8L612.7 301"/>
<path class="k" d="M573.3 300.3L614.1 300.3"/>
<rect class="w" x="564.8" y="271" width="4" height="19"/>
<path class="h" d="M568.8 290L573 290"/>
<rect class="w" x="618.7" y="271" width="4" height="19"/>
<path class="h" d="M614.5 290L618.7 290"/>
<path class="l" d="M588.8 262L588.8 314"/>
<path class="l" d="M597.8 262L597.8 314"/>
<path class="l" d="M506.5 260.6L570.4 260.6"/>
<path class="l" d="M538 264.1L565.3 264.1"/>
<path class="l" d="M538 281.3L558.5 281.3"/>
<path class="l" d="M621.5 264.5L630.2 264.5"/>
<path class="l" d="M627.8 281L650.4 281"/>
<path class="l" d="M650.4 281L650.4 346.8"/>
<path class="l" d="M522 299.4L563 299.4"/>
<path class="l" d="M627 299.4L650.4 299.4"/>
<path class="l" d="M545 301.8L790 301.8"/>
<path class="l" d="M507.5 260.6L507.5 301.8"/>
<path class="ar" d="M507.5 260.6L508.4 266.1L506.6 266.1Z"/>
<path class="ar" d="M507.5 301.8L506.6 296.3L508.4 296.3Z"/>
<text class="tx" x="507" y="280.7" font-size="12.4" text-anchor="middle" transform="rotate(-90 507 280.7)">49</text>
<path class="l" d="M523.2 286L523.2 299.4"/>
<path class="ar" d="M523.2 299.4L522.3 293.9L524.1 293.9Z"/>
<path class="l" d="M523.2 301.8L523.2 318"/>
<path class="ar" d="M523.2 301.8L524.1 307.3L522.3 307.3Z"/>
<text class="tx" x="521.4" y="290" font-size="12.4" text-anchor="middle" transform="rotate(-90 521.4 290)">3</text>
<text class="cj" x="553.5" y="325.2" font-size="11.7" text-anchor="start">最大</text>
<text class="tx" x="577.2" y="324.6" font-size="12.9" text-anchor="start">&#216;32/</text>
<rect class="l" x="608.6" y="315.8" width="9" height="9"/>
<text class="tx" x="620.2" y="324.6" font-size="12.9" text-anchor="start">25</text>
<path class="l" d="M576 327.4L608 327.4"/>
<path class="ar" d="M588.8 327.4L583.8 328.3L583.8 326.5Z"/>
<path class="ar" d="M597.8 327.4L602.8 326.5L602.8 328.3Z"/>
<text class="cj" x="555.3" y="343.6" font-size="12.4" text-anchor="start">参照法兰尺寸</text>
<path class="l" d="M538 346.3L650.4 346.3"/>
<path class="ar" d="M538 346.3L543.5 345.4L543.5 347.2Z"/>
<path class="ar" d="M650.4 346.3L644.9 347.2L644.9 345.4Z"/>
<path class="l" d="M593.9 355L593.9 367"/>
<path class="l" d="M760.9 304.6L760.9 367"/>
<path class="l" d="M593.9 365.7L760.9 365.7"/>
<path class="ar" d="M593.9 365.7L599.4 364.8L599.4 366.6Z"/>
<path class="ar" d="M760.9 365.7L755.4 366.6L755.4 364.8Z"/>
<text class="tx" x="677.8" y="362.8" font-size="12.4" text-anchor="middle">197</text>
<path class="l" d="M528.4 35.3L703.9 35.3"/>
<path class="ar" d="M528.4 35.3L533.9 34.4L533.9 36.2Z"/>
<path class="ar" d="M703.9 35.3L698.4 36.2L698.4 34.4Z"/>
<text class="tx" x="617" y="33.5" font-size="12.4" text-anchor="middle">&#216;206</text>
<path class="l" d="M528.4 34L528.4 175"/>
<path class="l" d="M703.9 34L703.9 179"/>
<path class="l" d="M625.6 81L790 81"/>
<path class="l" d="M788.3 81L788.3 301.8"/>
<path class="ar" d="M788.3 81L789.2 86.5L787.4 86.5Z"/>
<path class="ar" d="M788.3 301.8L787.4 296.3L789.2 296.3Z"/>
<text class="tx" x="786.5" y="190.9" font-size="12.4" text-anchor="middle" transform="rotate(-90 786.5 190.9)">261</text>
<path class="l" d="M776.4 245.5L776.4 301.8"/>
<path class="ar" d="M776.4 245.5L777.3 251L775.5 251Z"/>
<path class="ar" d="M776.4 301.8L775.5 296.3L777.3 296.3Z"/>
<text class="tx" x="776.1" y="273.2" font-size="12.4" text-anchor="middle" transform="rotate(-90 776.1 273.2)">67</text>
<path class="l" d="M593.4 59.4L593.4 95"/>
<path class="c" d="M593.4 100L593.4 319"/>
<path class="l" d="M616.5 71.8L616.5 96"/>
<path class="c" d="M616.5 101L616.5 223"/>
<path class="l" d="M594.2 98.9L689.2 21.1L778.7 21.1"/>
<text class="cj" x="697.3" y="18.2" font-size="12.6" text-anchor="start">驱动轴中心线</text>
<path class="l" d="M616.8 119.7L725.4 63.9L789.7 63.9"/>
<text class="cj" x="725.5" y="60" font-size="12.6" text-anchor="start">箱罩中心线</text>
<path class="d" d="M85.8 442.2L85.8 419Q85.8 415.4 89.5 415.4L235.5 415.4Q239.2 415.4 239.2 419L239.2 442.2"/>
<path class="d" d="M85.8 442.2L243.3 442.2L243.3 469.5"/>
<path class="d" d="M82 456.3L243.3 456.3"/>
<path class="d" d="M43.2 462.9L243.3 462.9"/>
<path class="d" d="M56 467.6L243.3 467.6"/>
<path class="d" d="M85.8 442.2L80.5 457"/>
<path class="d" d="M212 442.2L212 470Q212 475.7 207 475.7L205 475.7"/>
<path class="d" d="M222.5 442.2L222.5 475.7L235 475.7L235 442.2"/>
<path class="d" d="M212 475.7L235 475.7"/>
<path class="d" d="M113 442.2L113 470Q113 475.7 118 475.7L120 475.7"/>
<path class="d" d="M102.5 442.2L102.5 475.7L91 475.7L91 442.2"/>
<path class="d" d="M91 475.7L113 475.7"/>
<path class="d" d="M226 446L232 452M226 462L232 456"/>
<path class="d" d="M99 446L93 452M99 462L93 456"/>
<path class="d" d="M238.6 469.5L238.6 506Q238.6 509 234 510L206.5 514.7L104.8 514.7"/>
<path class="d" d="M205.6 514.7L205.6 526.6"/>
<path class="d" d="M95.4 479.9Q98 495 97.3 510L89.2 518.5"/>
<path class="d" d="M56 479.9L95.4 479.9"/>
<path class="d" d="M43.2 462.9L43.2 535.4L81.6 535.4L83.5 529.8"/>
<path class="d" d="M43.2 470L55 470L57 474"/>
<path class="d" d="M56.2 518.5L89.2 518.5"/>
<path class="d" d="M62.8 529.8L83.5 529.8"/>
<path class="d" d="M120.2 514.7L120.2 526.6"/>
<path class="h" d="M44 530L46.5 526L49 530L51.5 526L54 530L56 525.5"/>
<path class="h" d="M44 474L46.5 470L49 474L51.5 470L54 474L56 469.5"/>
<path class="c2" d="M63 462L63 536"/>
<path class="c" d="M32.2 499.3L107.6 499.3"/>
<path class="l" d="M13.8 526.6L205.4 526.6"/>
<path class="l" d="M205.4 526.6L205.4 538.5"/>
<path class="l" d="M120.2 526.6L120.2 537"/>
<path class="h" d="M120.2 534L115 534L115 540"/>
<circle class="l" cx="162.3" cy="613.9" r="86.8"/>
<path class="w" d="M91.24 564.33L84.59 551.18Q82.96 548.99 84.87 547.08L95.48 536.47Q97.39 534.56 99.58 536.19L112.73 542.84"/>
<circle class="l" cx="96.47" cy="548.07" r="7"/>
<circle class="l" cx="96.47" cy="548.07" r="3.1"/>
<circle class="h" cx="96.47" cy="548.07" r="5.2"/>
<path class="w" d="M211.87 542.84L225.02 536.19Q227.21 534.56 229.12 536.47L239.73 547.08Q241.64 548.99 240.01 551.18L233.36 564.33"/>
<circle class="l" cx="228.13" cy="548.07" r="7"/>
<circle class="l" cx="228.13" cy="548.07" r="3.1"/>
<circle class="h" cx="228.13" cy="548.07" r="5.2"/>
<path class="w" d="M233.36 663.47L240.01 676.62Q241.64 678.81 239.73 680.72L229.12 691.33Q227.21 693.24 225.02 691.61L211.87 684.96"/>
<circle class="l" cx="228.13" cy="679.73" r="7"/>
<circle class="l" cx="228.13" cy="679.73" r="3.1"/>
<circle class="h" cx="228.13" cy="679.73" r="5.2"/>
<path class="w" d="M112.73 684.96L99.58 691.61Q97.39 693.24 95.48 691.33L84.87 680.72Q82.96 678.81 84.59 676.62L91.24 663.47"/>
<circle class="l" cx="96.47" cy="679.73" r="7"/>
<circle class="l" cx="96.47" cy="679.73" r="3.1"/>
<circle class="h" cx="96.47" cy="679.73" r="5.2"/>
<circle class="l" cx="162.3" cy="613.9" r="82.5"/>
<circle class="h" cx="162.3" cy="613.9" r="85.2"/>
<path class="l" d="M240.8 573.2L251.3 573.2"/>
<path class="l" d="M251.3 573.2L251.3 719.5"/>
<path class="l" d="M240.8 655.5L251.3 655.5"/>
<path class="l" d="M251.3 577.6L255.7 577.6L255.7 607.1999999999999L251.3 607.1999999999999"/>
<path class="l" d="M251.3 585.5L255.7 585.5"/>
<path class="l" d="M251.3 592.4L255.7 592.4"/>
<path class="l" d="M251.3 599.3L255.7 599.3"/>
<path class="l" d="M255.7 583.1L261.4 583.1M255.7 601.6999999999999L261.4 601.6999999999999"/>
<path class="l" d="M255.7 587.4L261.4 587.4"/>
<path class="l" d="M255.7 592.4L261.4 592.4"/>
<path class="l" d="M255.7 597.4L261.4 597.4"/>
<path class="l" d="M261.4 579.3L267 579.3L267 605.5L261.4 605.5Z"/>
<path class="l" d="M261.4 585.5L267 585.5"/>
<path class="l" d="M261.4 592.4L267 592.4"/>
<path class="l" d="M261.4 599.3L267 599.3"/>
<path class="l" d="M267 580.4Q272.7 581.9 272.7 592.4Q272.7 602.9 267 604.4"/>
<path class="l" d="M267 592.4L272.7 592.4"/>
<path class="l" d="M251.3 620.3000000000001L255.7 620.3000000000001L255.7 649.9L251.3 649.9"/>
<path class="l" d="M251.3 628.2L255.7 628.2"/>
<path class="l" d="M251.3 635.1L255.7 635.1"/>
<path class="l" d="M251.3 642L255.7 642"/>
<path class="l" d="M255.7 625.8000000000001L261.4 625.8000000000001M255.7 644.4L261.4 644.4"/>
<path class="l" d="M255.7 630.1L261.4 630.1"/>
<path class="l" d="M255.7 635.1L261.4 635.1"/>
<path class="l" d="M255.7 640.1L261.4 640.1"/>
<path class="l" d="M261.4 622.0L267 622.0L267 648.2L261.4 648.2Z"/>
<path class="l" d="M261.4 628.2L267 628.2"/>
<path class="l" d="M261.4 635.1L267 635.1"/>
<path class="l" d="M261.4 642L267 642"/>
<path class="l" d="M267 623.1Q272.7 624.6 272.7 635.1Q272.7 645.6 267 647.1"/>
<path class="l" d="M267 635.1L272.7 635.1"/>
<circle class="w" cx="183.2" cy="591.2" r="32.7"/>
<circle class="l" cx="183.2" cy="591.2" r="25.2"/>
<circle class="k2" cx="183.2" cy="591.2" r="18.8"/>
<circle class="h" cx="183.2" cy="591.2" r="21.3"/>
<rect class="l" x="169.7" y="577.7" width="27" height="27" rx="5"/>
<path class="l" d="M190.97 593.28L195.8 594.58"/>
<path class="l" d="M191.47 595.97L195.8 598.47"/>
<path class="l" d="M190.27 598.27L193.81 601.81"/>
<path class="l" d="M187.97 599.47L190.47 603.8"/>
<path class="l" d="M185.28 598.97L186.58 603.8"/>
<path class="l" d="M181.12 598.97L179.82 603.8"/>
<path class="l" d="M178.43 599.47L175.93 603.8"/>
<path class="l" d="M176.13 598.27L172.59 601.81"/>
<path class="l" d="M174.93 595.97L170.6 598.47"/>
<path class="l" d="M175.43 593.28L170.6 594.58"/>
<path class="l" d="M175.43 589.12L170.6 587.82"/>
<path class="l" d="M174.93 586.43L170.6 583.93"/>
<path class="l" d="M176.13 584.13L172.59 580.59"/>
<path class="l" d="M178.43 582.93L175.93 578.6"/>
<path class="l" d="M181.12 583.43L179.82 578.6"/>
<path class="l" d="M185.28 583.43L186.58 578.6"/>
<path class="l" d="M187.97 582.93L190.47 578.6"/>
<path class="l" d="M190.27 584.13L193.81 580.59"/>
<path class="l" d="M191.47 586.43L195.8 583.93"/>
<path class="l" d="M190.97 589.12L195.8 587.82"/>
<path class="k" d="M170.2 590.4L196.2 590.4"/>
<circle class="bk" cx="183.2" cy="591.2" r="1.6"/>
<circle class="h" cx="212.1" cy="591.2" r="3"/>
<circle class="h" cx="212.1" cy="591.2" r="1.6"/>
<path class="h" d="M207.65 585.1L214.93 583.29"/>
<path class="h" d="M207.65 597.3L214.93 599.11"/>
<path class="h" d="M206.22 580.95L213.07 577.9"/>
<path class="h" d="M206.22 601.45L213.07 604.5"/>
<circle class="h" cx="183.2" cy="620.1" r="3"/>
<circle class="h" cx="183.2" cy="620.1" r="1.6"/>
<path class="h" d="M189.3 615.65L191.11 622.93"/>
<path class="h" d="M177.1 615.65L175.29 622.93"/>
<path class="h" d="M193.45 614.22L196.5 621.07"/>
<path class="h" d="M172.95 614.22L169.9 621.07"/>
<circle class="h" cx="154.3" cy="591.2" r="3"/>
<circle class="h" cx="154.3" cy="591.2" r="1.6"/>
<path class="h" d="M158.75 597.3L151.47 599.11"/>
<path class="h" d="M158.75 585.1L151.47 583.29"/>
<path class="h" d="M160.18 601.45L153.33 604.5"/>
<path class="h" d="M160.18 580.95L153.33 577.9"/>
<circle class="h" cx="183.2" cy="562.3" r="3"/>
<circle class="h" cx="183.2" cy="562.3" r="1.6"/>
<path class="h" d="M177.1 566.75L175.29 559.47"/>
<path class="h" d="M189.3 566.75L191.11 559.47"/>
<path class="h" d="M172.95 568.18L169.9 561.33"/>
<path class="h" d="M193.45 568.18L196.5 561.33"/>
<path class="h" d="M208.95 604.32A28.9 28.9 0 0 1 196.32 616.95"/>
<path class="h" d="M170.08 616.95A28.9 28.9 0 0 1 157.45 604.32"/>
<path class="h" d="M157.45 578.08A28.9 28.9 0 0 1 170.08 565.45"/>
<path class="h" d="M196.32 565.45A28.9 28.9 0 0 1 208.95 578.08"/>
<path class="l" d="M183.2 548.6L183.2 626.8"/>
<path class="l" d="M183.2 630.5L183.2 719.5"/>
<path class="l" d="M150 591.2L215 591.2"/>
<path class="l" d="M81.1 652.6L81.1 677.2L83.6 678.2"/>
<path class="l" d="M96.6 692.8L96.6 705.6"/>
<path class="l" d="M101.9 690.5L101.9 705.6"/>
<rect class="l" x="96.3" y="705.6" width="75.6" height="5"/>
<path class="l" d="M166.3 705.6L166.3 701.9L171.9 701.9L171.9 705.6"/>
<path class="h" d="M166.3 705.6L166.3 710.6"/>
<path class="l" d="M102.5 710.6Q116 713.5 122.5 718.1L122.5 733.1L85 743.8"/>
<path class="l" d="M165 710.6Q153 713.5 146.3 718.1L146.3 733.1L185 743.8"/>
<path class="l" d="M122.5 718.1L146.3 718.1"/>
<path class="l" d="M122.5 723.8L146.3 723.8"/>
<rect class="l" x="57.5" y="743.8" width="153.4" height="14.5" rx="2.5"/>
<path class="l" d="M66.6 743.8L66.6 758.3"/>
<path class="l" d="M201.8 743.8L201.8 758.3"/>
<path class="l" d="M71.2 743.8L71.2 758.3"/>
<path class="l" d="M197.2 743.8L197.2 758.3"/>
<path class="l" d="M77.2 743.8L77.2 758.3"/>
<path class="l" d="M191.2 743.8L191.2 758.3"/>
<path class="l" d="M79.7 743.8L79.7 758.3"/>
<path class="l" d="M188.7 743.8L188.7 758.3"/>
<path class="l" d="M87.7 743.8L87.7 758.3"/>
<path class="l" d="M180.7 743.8L180.7 758.3"/>
<path class="l" d="M89.8 743.8L89.8 758.3"/>
<path class="l" d="M178.6 743.8L178.6 758.3"/>
<path class="l" d="M99.8 743.8L99.8 758.3"/>
<path class="l" d="M168.6 743.8L168.6 758.3"/>
<path class="l" d="M114.4 743.8L114.4 758.3"/>
<path class="l" d="M154 743.8L154 758.3"/>
<path class="l" d="M123.1 734.5L125 744L128.8 744L127.5 734.5Z"/>
<path class="l" d="M145.1 734.5L143.2 744L139.4 744L140.7 734.5Z"/>
<path class="h" d="M125.2 737L126.8 744"/>
<path class="h" d="M143 737L141.4 744"/>
<path class="l" d="M128.3 738.1L140 738.1"/>
<path class="l" d="M134.1 728.4L136.6 730.9L134.1 733.4L131.6 730.9Z"/>
<path class="l" d="M134.2 672L134.2 700"/>
<path class="c" d="M134.2 702L134.2 761"/>
<path class="l" d="M162.6 391.3L162.6 462"/>
<path class="c" d="M162.6 462L162.6 701"/>
<path class="l" d="M13.8 591.2L146 591.2"/>
<path class="c" d="M146 591.2L230 591.2"/>
<path class="c" d="M13.8 613.9L308 613.9"/>
<path class="l" d="M251.3 613.9L308 613.9"/>
<path class="l" d="M43.2 391.3L162.6 391.3"/>
<path class="ar" d="M43.2 391.3L48.7 390.4L48.7 392.2Z"/>
<path class="ar" d="M162.6 391.3L157.1 392.2L157.1 390.4Z"/>
<text class="tx" x="104.2" y="388.6" font-size="12.4" text-anchor="middle">141</text>
<path class="l" d="M43.2 390L43.2 462"/>
<path class="l" d="M18.5 526.6L18.5 591.2"/>
<path class="ar" d="M18.5 526.6L19.4 532.1L17.6 532.1Z"/>
<path class="ar" d="M18.5 591.2L17.6 585.7L19.4 585.7Z"/>
<path class="l" d="M18.5 591.2L18.5 613.9"/>
<path class="ar" d="M18.5 591.2L19.4 596.7L17.6 596.7Z"/>
<path class="ar" d="M18.5 613.9L17.6 608.4L19.4 608.4Z"/>
<text class="tx" x="17.3" y="555.2" font-size="12.4" text-anchor="middle" transform="rotate(-90 17.3 555.2)">76</text>
<text class="tx" x="17.3" y="602.3" font-size="12.4" text-anchor="middle" transform="rotate(-90 17.3 602.3)">27</text>
<path class="l" d="M183.2 718.7L251.3 718.7"/>
<path class="ar" d="M183.2 718.7L188.7 717.8L188.7 719.6Z"/>
<path class="ar" d="M251.3 718.7L245.8 719.6L245.8 717.8Z"/>
<text class="tx" x="217.3" y="715.4" font-size="12.4" text-anchor="middle">80.5</text>
<path class="l" d="M251.3 718.7L272.7 718.7"/>
<path class="ar" d="M251.3 718.7L256.8 717.8L256.8 719.6Z"/>
<path class="ar" d="M272.7 718.7L267.2 719.6L267.2 717.8Z"/>
<text class="tx" x="262.5" y="715.4" font-size="12.4" text-anchor="middle">25</text>
<path class="l" d="M272.7 625L272.7 719.5"/>
<path class="l" d="M278.3 592.4L283.6 592.4"/>
<path class="l" d="M286.3 592.4L307.5 592.4"/>
<path class="l" d="M278.3 635.1L282.6 635.1"/>
<path class="l" d="M285.5 635.1L307.5 635.1"/>
<path class="l" d="M306.7 592.4L306.7 613.9"/>
<path class="ar" d="M306.7 592.4L307.6 597.9L305.8 597.9Z"/>
<path class="ar" d="M306.7 613.9L305.8 608.4L307.6 608.4Z"/>
<path class="l" d="M306.7 613.9L306.7 635.1"/>
<path class="ar" d="M306.7 613.9L307.6 619.4L305.8 619.4Z"/>
<path class="ar" d="M306.7 635.1L305.8 629.6L307.6 629.6Z"/>
<text class="tx" x="304.6" y="602.9" font-size="12.4" text-anchor="middle" transform="rotate(-90 304.6 602.9)">25</text>
<text class="tx" x="304.6" y="624.3" font-size="12.4" text-anchor="middle" transform="rotate(-90 304.6 624.3)">25</text>
<path class="l" d="M58.8 758.3L58.8 787"/>
<path class="l" d="M209.6 758.3L209.6 787"/>
<path class="l" d="M58.8 785.1L209.6 785.1"/>
<path class="ar" d="M58.8 785.1L64.3 784.2L64.3 786Z"/>
<path class="ar" d="M209.6 785.1L204.1 786L204.1 784.2Z"/>
<text class="tx" x="134.2" y="782.4" font-size="12.4" text-anchor="middle">&#216;180</text>
<path class="l" d="M269.6 580.3L279.9 547.3L376 547.3"/>
<text class="tx" x="279.9" y="544.6" font-size="12.4" text-anchor="start">2-G3/4"</text>
<text class="cj" x="324" y="545.3" font-size="12.4" text-anchor="start">防水接头</text>
<text class="cjt" x="575.2" y="492.3" font-size="18.2" font-weight="500" text-anchor="start">法兰安装尺寸</text>
<circle class="l" cx="630.5" cy="610.4" r="85"/>
<circle class="l" cx="630.5" cy="610.4" r="31.4"/>
<circle class="c4" cx="630.5" cy="610.4" r="64"/>
<circle class="c4" cx="630.5" cy="610.4" r="43.8"/>
<circle class="w" cx="697.2" cy="638.03" r="7.4"/>
<circle class="l" cx="697.2" cy="638.03" r="4.4"/>
<circle class="w" cx="658.13" cy="677.1" r="7.4"/>
<circle class="l" cx="658.13" cy="677.1" r="4.4"/>
<circle class="w" cx="602.87" cy="677.1" r="7.4"/>
<circle class="l" cx="602.87" cy="677.1" r="4.4"/>
<circle class="w" cx="563.8" cy="638.03" r="7.4"/>
<circle class="l" cx="563.8" cy="638.03" r="4.4"/>
<circle class="w" cx="563.8" cy="582.77" r="7.4"/>
<circle class="l" cx="563.8" cy="582.77" r="4.4"/>
<circle class="w" cx="602.87" cy="543.7" r="7.4"/>
<circle class="l" cx="602.87" cy="543.7" r="4.4"/>
<circle class="w" cx="658.13" cy="543.7" r="7.4"/>
<circle class="l" cx="658.13" cy="543.7" r="4.4"/>
<circle class="w" cx="697.2" cy="582.77" r="7.4"/>
<circle class="l" cx="697.2" cy="582.77" r="4.4"/>
<path class="c6" d="M606 585.9L576.5 556.4"/>
<circle class="kw" cx="585.2" cy="565.1" r="6.2"/>
<circle class="kw" cx="599.5" cy="579.4" r="5.2"/>
<path class="h" d="M580.82 569.48L589.58 560.72"/>
<path class="h" d="M580.82 560.72L589.58 569.48"/>
<path class="h" d="M595.82 575.72L603.18 583.08"/>
<path class="c6" d="M606 634.9L576.5 664.4"/>
<circle class="kw" cx="585.2" cy="655.7" r="6.2"/>
<circle class="kw" cx="599.5" cy="641.4" r="5.2"/>
<path class="h" d="M580.82 651.32L589.58 660.08"/>
<path class="h" d="M580.82 660.08L589.58 651.32"/>
<path class="h" d="M595.82 645.08L603.18 637.72"/>
<path class="c6" d="M655 585.9L684.5 556.4"/>
<circle class="kw" cx="675.8" cy="565.1" r="6.2"/>
<circle class="kw" cx="661.5" cy="579.4" r="5.2"/>
<path class="h" d="M671.42 560.72L680.18 569.48"/>
<path class="h" d="M671.42 569.48L680.18 560.72"/>
<path class="h" d="M657.82 583.08L665.18 575.72"/>
<path class="c6" d="M655 634.9L684.5 664.4"/>
<circle class="kw" cx="675.8" cy="655.7" r="6.2"/>
<circle class="kw" cx="661.5" cy="641.4" r="5.2"/>
<path class="h" d="M671.42 660.08L680.18 651.32"/>
<path class="h" d="M671.42 651.32L680.18 660.08"/>
<path class="h" d="M657.82 637.72L665.18 645.08"/>
<path class="c5" d="M630.5 504L630.5 716"/>
<path class="c5" d="M545.7 610.4L735.5 610.4"/>
<path class="l" d="M553.56 548.1L728.4 689.4"/>
<path class="ar" d="M564.44 556.91L559.15 553.91L560.41 552.35Z"/>
<path class="ar" d="M696.56 663.89L701.85 666.89L700.59 668.45Z"/>
<path class="l" d="M561.82 573.42L739.5 669.3"/>
<path class="ar" d="M574.15 580.06L568.39 578.09L569.34 576.33Z"/>
<path class="ar" d="M686.85 640.74L692.61 642.71L691.66 644.47Z"/>
<path class="l" d="M572.94 598.38L748.5 635.8"/>
<path class="ar" d="M587.63 601.44L581.55 601.19L581.96 599.24Z"/>
<path class="ar" d="M673.37 619.36L679.45 619.61L679.04 621.56Z"/>
<path class="l" d="M599.44 615.04L661.56 605.76"/>
<path class="ar" d="M599.44 615.04L605.23 613.17L605.53 615.14Z"/>
<path class="ar" d="M661.56 605.76L655.77 607.63L655.47 605.66Z"/>
<text class="tx" x="641.3" y="606.9" font-size="12.4" text-anchor="middle" transform="rotate(-8.5 641.3 606.9)">&#216;48.5</text>
<text class="tx" x="732.5" y="631" font-size="12.4" text-anchor="middle" transform="rotate(11.8 732.5 631)">&#216;70</text>
<text class="tx" x="723.4" y="659.3" font-size="12.4" text-anchor="middle" transform="rotate(28.3 723.4 659.3)">&#216;102</text>
<text class="tx" x="717.6" y="679.3" font-size="12.4" text-anchor="middle" transform="rotate(39 717.6 679.3)">&#216;132</text>
<path class="l" d="M754.6 537.2L717.4 537.2L682.2 559.8"/>
<path class="ar" d="M682.2 559.8L687.08 555.36L688.26 557.21Z"/>
<text class="tx" x="736.5" y="534.6" font-size="12.4" text-anchor="middle">4-M10</text>
<path class="l" d="M751.6 558.7L723.4 558.7L667.4 576.8"/>
<path class="ar" d="M667.4 576.8L673.25 573.76L673.92 575.85Z"/>
<text class="tx" x="737.5" y="555.9" font-size="12.4" text-anchor="middle">4-M8</text>
<path class="l" d="M415.6 596.4L501.8 596.4L523.6 610.3L545.7 610.3"/>
<text class="cj" x="416.5" y="592.2" font-size="12.6" text-anchor="start">与手轮轴线平行</text>
</svg>
</body></html>
